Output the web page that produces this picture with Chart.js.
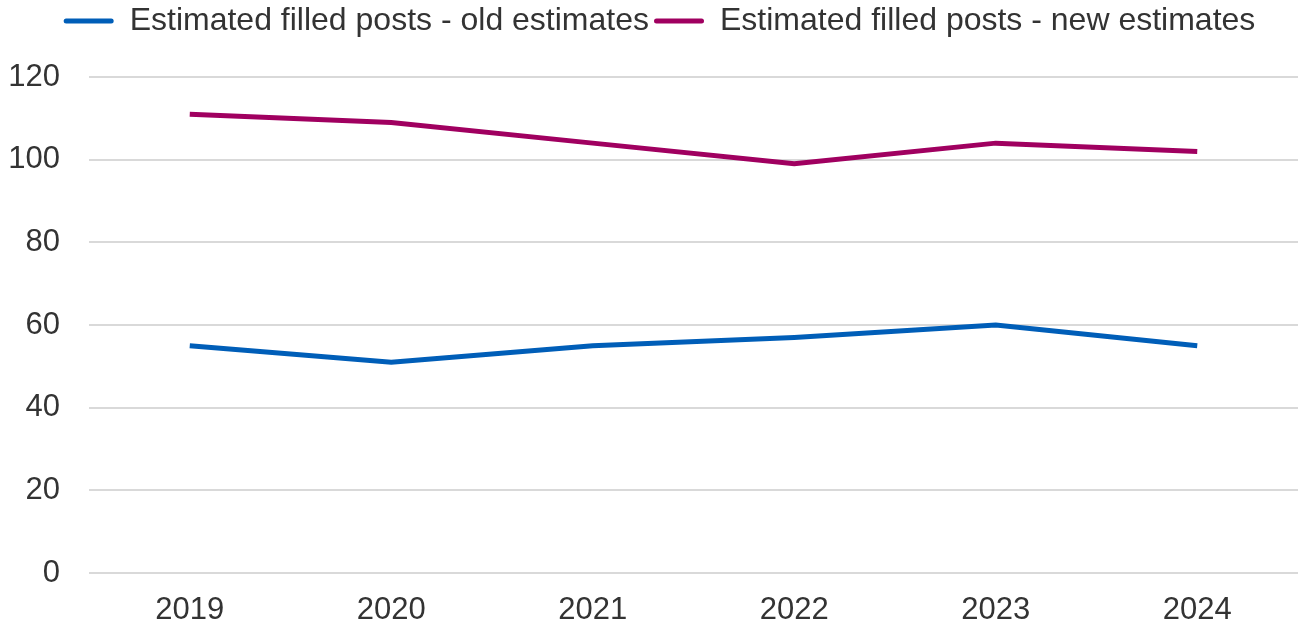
<!DOCTYPE html>
<html>
<head>
<meta charset="utf-8">
<script src="https://cdn.jsdelivr.net/npm/chart.js@4/dist/chart.umd.min.js"></script>
<style>
  html, body { margin: 0; padding: 0; background: #fff; overflow: hidden; }
  canvas { display: block; }
</style>
</head>
<body>
<canvas id="posts" width="1300" height="629"></canvas>
<script>
const years = ['2019', '2020', '2021', '2022', '2023', '2024'];
const oldEstimates = [55, 51, 55, 57, 60, 55];
const newEstimates = [111, 109, 104, 99, 104, 102];
const seriesNames = ['Estimated filled posts - old estimates', 'Estimated filled posts - new estimates'];
const yTicks = [0, 20, 40, 60, 80, 100, 120];

const blue = '#005EB8';
const purple = '#A00060';
const fontFamily = '"Liberation Sans", Arial, sans-serif';

/* Legend sits in a taller band than Chart.js would give it, and a little right of centre */
const legendBand = {
  id: 'legendBand',
  beforeInit(chart) {
    const fit = chart.legend.fit;
    chart.legend.fit = function () {
      fit.call(this);
      this.height = 77;
    };
  },
  afterLayout(chart) {
    chart.legend.left = 21;
  }
};

const config = {
  type: 'line',
  data: {
    labels: years,
    datasets: [
      {
        label: seriesNames[0],
        data: oldEstimates,
        borderColor: blue,
        backgroundColor: blue,
        borderWidth: 5,
        pointRadius: 0,
        tension: 0
      },
      {
        label: seriesNames[1],
        data: newEstimates,
        borderColor: purple,
        backgroundColor: purple,
        borderWidth: 5,
        pointRadius: 0,
        tension: 0
      }
    ]
  },
  options: {
    responsive: false,
    animation: false,
    layout: { padding: { left: 0, right: 2, top: 0, bottom: 0 } },
    plugins: {
      legend: {
        position: 'top',
        labels: {
          font: { family: fontFamily, size: 32 },
          color: '#333333',
          boxWidth: 50,
          boxHeight: 5,
          padding: 5,
          generateLabels: chart => chart.data.datasets.map((ds, i) => ({
            text: ds.label,
            fillStyle: ds.borderColor,
            strokeStyle: ds.borderColor,
            lineWidth: 0,
            borderRadius: 2.5,
            datasetIndex: i,
            fontColor: '#333333'
          }))
        }
      },
      tooltip: { enabled: false }
    },
    scales: {
      x: {
        offset: true,
        afterFit: scale => { scale.height = 56; },
        grid: { display: false, drawTicks: false },
        border: { display: false },
        ticks: {
          font: { family: fontFamily, size: 31 },
          color: '#333333',
          padding: 19,
          maxRotation: 0
        }
      },
      y: {
        min: 0,
        max: 120,
        afterFit: scale => { scale.width = 89; },
        afterBuildTicks: scale => { scale.ticks = yTicks.map(v => ({ value: v })); },
        grid: { color: '#d9d9d9', lineWidth: 2, drawTicks: false },
        border: { display: false },
        ticks: {
          font: { family: fontFamily, size: 31 },
          color: '#333333',
          padding: 29
        }
      }
    }
  },
  plugins: [legendBand]
};

new Chart(document.getElementById('posts').getContext('2d'), config);
</script>
</body>
</html>
